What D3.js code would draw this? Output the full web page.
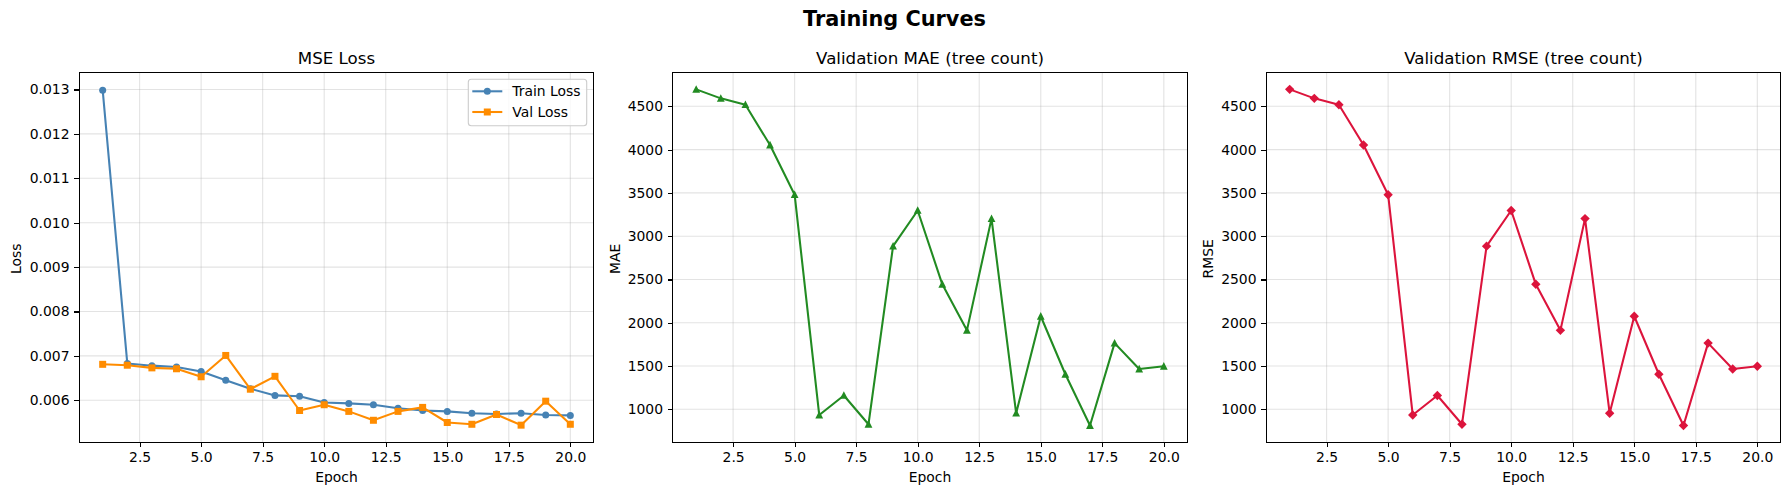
<!DOCTYPE html>
<html>
<head>
<meta charset="utf-8">
<script src="https://cdn.jsdelivr.net/npm/d3@7"></script>
<style>
  html, body { margin: 0; padding: 0; background: #fff; }
  svg { display: block; }
  text { font-family: "DejaVu Sans"; fill: #000; }
</style>
</head>
<body>
<div id="chart"></div>
<script>
const epochs = d3.range(1, 21);
const trainLoss = [0.012985, 0.00683, 0.00678, 0.00675, 0.00665, 0.00645, 0.00626, 0.00611, 0.00609, 0.00595, 0.00593, 0.0059, 0.00582, 0.00577, 0.00575, 0.00571, 0.00569, 0.00571, 0.00567, 0.00566];
const valLoss = [0.00681, 0.00679, 0.00673, 0.00671, 0.00653, 0.00701, 0.00625, 0.00654, 0.00577, 0.0059, 0.00575, 0.00555, 0.00575, 0.00584, 0.0055, 0.00546, 0.00568, 0.00544, 0.00598, 0.00546];
const valMae = [4696, 4592, 4519, 4053, 3479, 934, 1160, 827, 2885, 3297, 2444, 1912, 3203, 955, 2075, 1405, 813, 1765, 1465, 1497];
const valRmse = [4696, 4592, 4519, 4053, 3479, 934, 1160, 827, 2885, 3297, 2444, 1912, 3203, 955, 2075, 1405, 813, 1765, 1465, 1497];
const xTicks = [2.5, 5, 7.5, 10, 12.5, 15, 17.5, 20];
const lossTicks = [0.006, 0.007, 0.008, 0.009, 0.01, 0.011, 0.012, 0.013];
const countTicks = [1000, 1500, 2000, 2500, 3000, 3500, 4000, 4500];

const WIDTH = 1789, HEIGHT = 495;
const TOP = 72.3, BOTTOM = 442.3, PANEL_W = 514.4;
const XDOMAIN = [0.05, 20.95];

let svg = d3.select("#chart").append("svg")
  .attr("width", WIDTH)
  .attr("height", HEIGHT);

svg.append("text")
  .attr("x", 894.5)
  .attr("y", 26)
  .attr("text-anchor", "middle")
  .style("font-size", "20.83px")
  .style("font-weight", "bold")
  .text("Training Curves");

drawPanel({
  left: 79.3, title: "MSE Loss", ylabel: "Loss", labelGap: 58, yTicks: lossTicks, yFormat: d3.format(".3f"),
  yDomain: [0.005054, 0.013387],
  series: [
    { name: "Train Loss", values: trainLoss, color: "#4682b4", marker: "circle" },
    { name: "Val Loss", values: valLoss, color: "#ff8c00", marker: "square" }
  ],
  legend: true
});
drawPanel({
  left: 672.8, title: "Validation MAE (tree count)", ylabel: "MAE", labelGap: 53, yTicks: countTicks, yFormat: d3.format("d"),
  yDomain: [619, 4893],
  series: [{ name: "MAE", values: valMae, color: "#228b22", marker: "triangle" }]
});
drawPanel({
  left: 1266.3, title: "Validation RMSE (tree count)", ylabel: "RMSE", labelGap: 53, yTicks: countTicks, yFormat: d3.format("d"),
  yDomain: [619, 4893],
  series: [{ name: "RMSE", values: valRmse, color: "#dc143c", marker: "diamond" }]
});

function markerPath(type) {
  if (type == "circle") return d3.symbol().type(d3.symbolCircle).size(Math.PI * 3.5 * 3.5)();
  if (type == "square") return "M-3.5,-3.5H3.5V3.5H-3.5Z";
  if (type == "triangle") return "M0,-4.2L3.9,3.4H-3.9Z";
  return "M0,-4.7L4.7,0L0,4.7L-4.7,0Z";
}

function drawPanel(p) {
  let x = d3.scaleLinear().domain(XDOMAIN).range([p.left, p.left + PANEL_W]);
  let y = d3.scaleLinear().domain(p.yDomain).range([BOTTOM, TOP]);
  let g = svg.append("g");

  // grid
  g.append("g").selectAll("line").data(xTicks).enter().append("line")
    .attr("x1", d => x(d)).attr("x2", d => x(d))
    .attr("y1", TOP).attr("y2", BOTTOM)
    .attr("stroke", "#b0b0b0").attr("stroke-opacity", 0.35).attr("stroke-width", 1.1);
  g.append("g").selectAll("line").data(p.yTicks).enter().append("line")
    .attr("x1", p.left).attr("x2", p.left + PANEL_W)
    .attr("y1", d => y(d)).attr("y2", d => y(d))
    .attr("stroke", "#b0b0b0").attr("stroke-opacity", 0.35).attr("stroke-width", 1.1);

  let line = d3.line().x((d, i) => x(epochs[i])).y(d => y(d));
  p.series.forEach(s => {
    g.append("path")
      .attr("d", line(s.values))
      .attr("fill", "none")
      .attr("stroke", s.color)
      .attr("stroke-width", 2.08)
      .attr("stroke-linejoin", "round");
    g.append("g").selectAll("path").data(s.values).enter().append("path")
      .attr("d", markerPath(s.marker))
      .attr("transform", (d, i) => "translate(" + x(epochs[i]) + "," + y(d) + ")")
      .attr("fill", s.color);
  });

  // axes
  let xAxis = d3.axisBottom(x).tickValues(xTicks).tickFormat(d3.format(".1f")).tickSize(4.86).tickPadding(4.9);
  let yAxis = d3.axisLeft(y).tickValues(p.yTicks).tickFormat(p.yFormat).tickSize(4.86).tickPadding(4.9);
  let ax = g.append("g").attr("transform", "translate(0," + BOTTOM + ")").call(xAxis);
  let ay = g.append("g").attr("transform", "translate(" + p.left + ",0)").call(yAxis);
  [ax, ay].forEach(a => {
    a.select(".domain").remove();
    a.selectAll("line").attr("stroke", "#000").attr("stroke-width", 1.1).attr("shape-rendering", "crispEdges");
    a.selectAll("text").style("font-size", "13.9px").style("font-family", "DejaVu Sans").attr("fill", "#000");
  });

  g.append("rect")
    .attr("x", p.left).attr("y", TOP)
    .attr("width", PANEL_W).attr("height", BOTTOM - TOP)
    .attr("fill", "none").attr("stroke", "#000").attr("stroke-width", 1.1)
    .attr("shape-rendering", "crispEdges");

  g.append("text")
    .attr("x", p.left + PANEL_W / 2)
    .attr("y", TOP - 8.3)
    .attr("text-anchor", "middle")
    .style("font-size", "16.67px")
    .text(p.title);
  g.append("text")
    .attr("x", p.left + PANEL_W / 2)
    .attr("y", 482)
    .attr("text-anchor", "middle")
    .style("font-size", "13.9px")
    .text("Epoch");

  let yMid = (TOP + BOTTOM) / 2 + 1.5;
  g.append("text")
    .attr("transform", "translate(" + (p.left - p.labelGap) + "," + yMid + ") rotate(-90)")
    .attr("text-anchor", "middle")
    .style("font-size", "13.9px")
    .text(p.ylabel);

  if (p.legend) drawLegend(g, p);
}

function drawLegend(g, p) {
  let w = 118.4, h = 46.4;
  let lx = 468.3, ly = 79.3;
  g.append("rect")
    .attr("x", lx).attr("y", ly).attr("width", w).attr("height", h).attr("rx", 3)
    .attr("fill", "#fff").attr("fill-opacity", 0.8)
    .attr("stroke", "#ccc").attr("stroke-width", 1.1);
  p.series.forEach((s, i) => {
    let cy = ly + 12 + i * 20.7;
    g.append("line")
      .attr("x1", lx + 4).attr("x2", lx + 34)
      .attr("y1", cy).attr("y2", cy)
      .attr("stroke", s.color).attr("stroke-width", 2.08);
    g.append("path")
      .attr("d", markerPath(s.marker))
      .attr("transform", "translate(" + (lx + 19) + "," + cy + ")")
      .attr("fill", s.color);
    g.append("text")
      .attr("x", lx + 44).attr("y", cy + 4.8)
      .style("font-size", "13.9px")
      .text(s.name);
  });
}
</script>
</body>
</html>
